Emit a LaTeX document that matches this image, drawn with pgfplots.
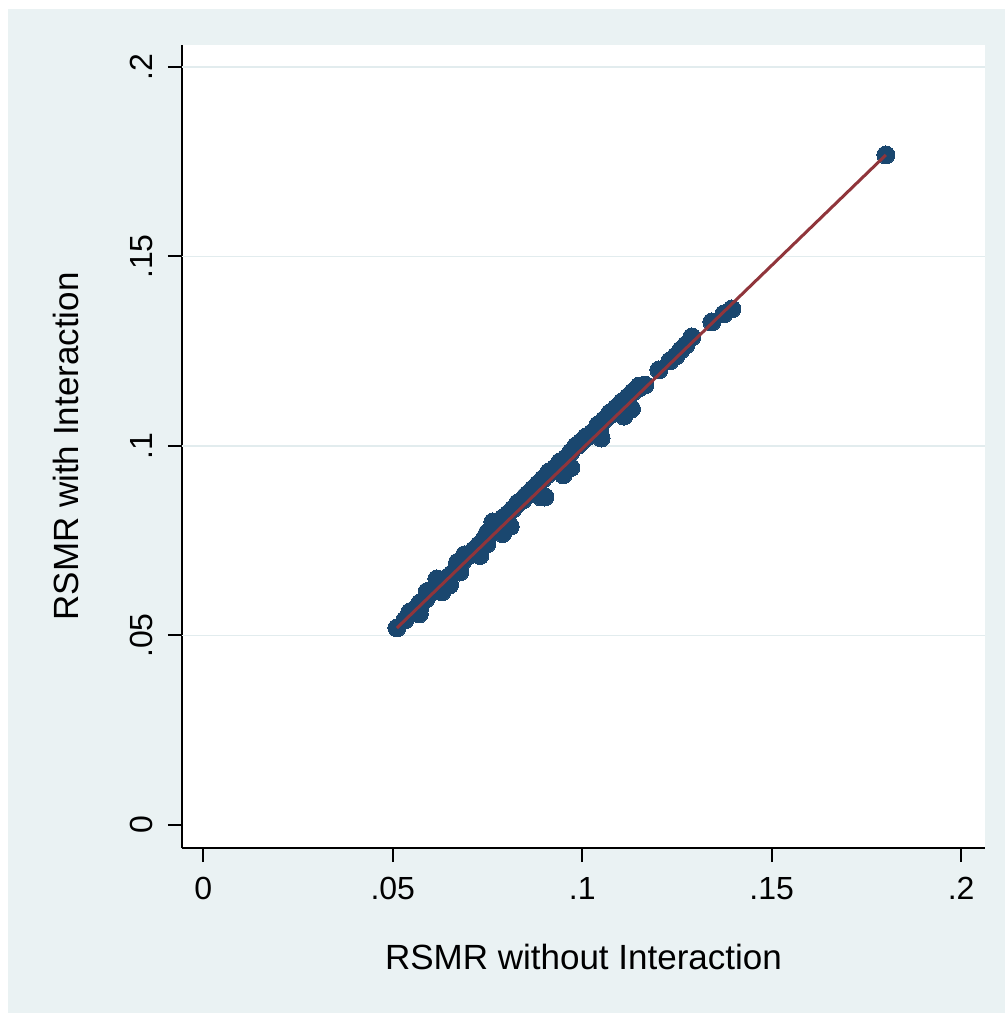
\documentclass[border=0pt]{standalone}
\usepackage{pgfplots}
\pgfplotsset{compat=1.18}
\usepackage{fontspec}
\setmainfont{Liberation Sans}
\definecolor{bglight}{HTML}{EAF2F3}
\definecolor{gridc}{HTML}{E2ECEE}
\definecolor{navy}{HTML}{1A476F}
\definecolor{fitred}{HTML}{90353B}
\begin{document}
\begin{tikzpicture}
\path[use as bounding box, fill=white] (-182pt,-165pt) rectangle (823pt,848pt);
\fill[bglight] (-174pt,-165pt) rectangle (823pt,839pt);
\begin{axis}[
  at={(0pt,0pt)}, anchor=south west,
  scale only axis, width=803pt, height=803pt,
  xmin=-0.00562, xmax=0.2063, ymin=-0.00607, ymax=0.2058,
  clip marker paths=true,
  axis x line*=bottom, axis y line*=left,
  axis line style={line width=2pt, black},
  axis background/.style={fill=white},
  tick align=outside, major tick length=14pt,
  every tick/.style={black, line width=2pt},
  xtick={0,0.05,0.1,0.15,0.2}, xticklabels={0,.05,.1,.15,.2},
  ytick={0,0.05,0.1,0.15,0.2}, yticklabels={0,.05,.1,.15,.2},
  extra y ticks={0.05,0.1,0.15,0.2}, extra y tick labels={},
  extra y tick style={grid=major, major tick length=0pt},
  major grid style={gridc, line width=1.8pt},
  /pgf/number format/assume math mode=true,
  tick label style={font=\fontsize{32}{38}\selectfont, black},
  xticklabel style={anchor=north, inner sep=0pt},
  yticklabel style={rotate=90, anchor=base, inner sep=0pt},
  xticklabel shift=15pt, yticklabel shift=15pt,
  every axis x label/.style={at={(rel axis cs:0.5,0)}, yshift=-121pt, anchor=base},
  every axis y label/.style={at={(rel axis cs:0,0.5)}, xshift=-103pt, rotate=90, anchor=base},
  label style={font=\fontsize{35}{42}\selectfont, black},
  xlabel={RSMR without Interaction},
  ylabel={RSMR with Interaction},
]
\addplot[only marks, mark=*, mark size=9pt, mark options={fill=navy, draw=navy, line width=0pt}] coordinates {
(0.05111,0.05198) (0.05322,0.05409) (0.05454,0.05620) (0.05559,0.05673)
(0.05718,0.05857) (0.05876,0.05963) (0.06034,0.06148) (0.06166,0.06491)
(0.06272,0.06332) (0.06430,0.06517) (0.06562,0.06623) (0.06720,0.06807)
(0.06852,0.06966) (0.06984,0.07098) (0.07142,0.07256) (0.07274,0.07388)
(0.07433,0.07572) (0.07565,0.07704) (0.07644,0.07995) (0.07802,0.07942)
(0.07908,0.08100) (0.08039,0.08206) (0.08171,0.08338) (0.08303,0.08496)
(0.08435,0.08575) (0.08567,0.08733) (0.08699,0.08865) (0.09016,0.08654)
(0.08831,0.08997) (0.08963,0.09129) (0.09121,0.09314) (0.09280,0.09419)
(0.09412,0.09578) (0.09570,0.09683) (0.09702,0.09842) (0.09834,0.10000)
(0.09966,0.10105) (0.10098,0.10237) (0.10256,0.10343) (0.10414,0.10554)
(0.10572,0.10686) (0.10731,0.10871) (0.10889,0.11003) (0.11047,0.11161)
(0.11206,0.11293) (0.11338,0.11425) (0.11496,0.11530) (0.11654,0.11609)
(0.12024,0.12005) (0.12314,0.12243) (0.12472,0.12375) (0.12604,0.12533)
(0.12736,0.12665) (0.12894,0.12876) (0.13422,0.13272) (0.13739,0.13483)
(0.13950,0.13615) (0.18013,0.17678)
(0.06773,0.06675) (0.07828,0.07784) (0.09412,0.09367) (0.10467,0.10422)
(0.05718,0.05725) (0.07485,0.07414) (0.11206,0.11134)
(0.0570,0.0557) (0.0591,0.0616) (0.0650,0.0634) (0.0671,0.0693)
(0.0730,0.0711) (0.0750,0.0771) (0.0810,0.0788) (0.0830,0.0849)
(0.0890,0.0866) (0.0910,0.0926) (0.0970,0.0943) (0.0990,0.1003)
(0.1050,0.1021) (0.1070,0.1080) (0.1130,0.1098) (0.1150,0.1158)
(0.0630,0.0615) (0.0690,0.0713) (0.0790,0.0769) (0.0850,0.0867)
(0.0950,0.0924) (0.1010,0.1022) (0.1110,0.1079)
};
\addplot[fitred, line width=3pt, no marks] coordinates {(0.05111,0.05198) (0.18013,0.17678)};
\end{axis}
\end{tikzpicture}
\end{document}
